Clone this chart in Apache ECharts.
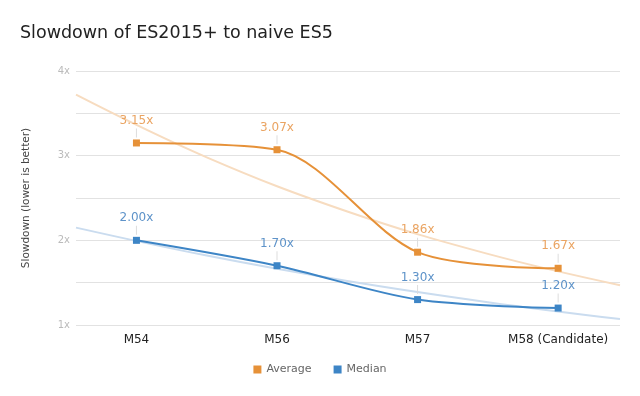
<!DOCTYPE html>
<html style="height: 100%">
<head>
<meta charset="utf-8">
<script type="text/javascript" src="https://cdn.jsdelivr.net/npm/echarts/dist/echarts.min.js"></script>
</head>
<body style="height: 100%; margin: 0">
<div id="container" style="width: 640px; height: 396px"></div>
<script type="text/javascript">
// data
var categories = ['M54', 'M56', 'M57', 'M58 (Candidate)'];
var average = [3.15, 3.07, 1.86, 1.67];
var median = [2.00, 1.70, 1.30, 1.20];
// trendlines (exponential looking), sampled at these x positions
var trendX = [-0.43, 0.5, 1.5, 2.5, 3.44];
var averageTrend = [3.72, 2.98, 2.34, 1.84, 1.47];
var medianTrend = [2.15, 1.82, 1.52, 1.27, 1.07];

var ORANGE = '#e69138';
var BLUE = '#3d85c6';

function pairs(xs, ys) {
    return ys.map(function (y, i) { return [xs[i], y]; });
}
var idx = categories.map(function (c, i) { return i; });

// value label with the small grey stem under it
function pointLabel(color) {
    return {
        show: true,
        position: 'top',
        distance: 2,
        formatter: function (p) { return '{v|' + p.value[1].toFixed(2) + 'x}\n{s| }'; },
        rich: {
            v: { color: color, fontSize: 12, lineHeight: 15, fontFamily: 'DejaVu Sans' },
            s: { width: 1, height: 9, backgroundColor: '#dddddd' }
        }
    };
}

var myChart = echarts.init(document.getElementById('container'));
var option = {
    animation: false,
    textStyle: { fontFamily: 'DejaVu Sans' },
    title: {
        text: 'Slowdown of ES2015+ to naive ES5',
        left: 15,
        top: 19,
        textStyle: { fontSize: 17.5, fontWeight: 'normal', color: '#222' }
    },
    legend: {
        data: ['Average', 'Median'],
        bottom: 16,
        icon: 'rect',
        itemWidth: 8,
        itemHeight: 8,
        itemGap: 22,
        textStyle: { color: '#666', fontSize: 11 }
    },
    grid: { left: 76, right: 20, top: 71, bottom: 71 },
    xAxis: {
        type: 'value',
        min: -0.43,
        max: 3.44,
        axisLine: { show: false },
        axisTick: { show: false },
        splitLine: { show: false },
        axisLabel: {
            customValues: idx,
            formatter: function (v) { return categories[Math.round(v)]; },
            color: '#222',
            fontSize: 12,
            margin: 9
        }
    },
    yAxis: {
        type: 'value',
        min: 1,
        max: 4,
        interval: 0.5,
        name: 'Slowdown (lower is better)',
        nameLocation: 'middle',
        nameGap: 44,
        nameTextStyle: { color: '#444', fontSize: 10.5 },
        axisLine: { show: false },
        axisTick: { show: false },
        axisLabel: {
            color: '#bbb',
            fontSize: 10,
            margin: 6,
            formatter: function (v) { return v % 1 === 0 ? v + 'x' : ''; }
        },
        splitLine: { lineStyle: { color: '#e2e2e2' } }
    },
    series: [
        {
            name: 'Average trend',
            type: 'line',
            data: pairs(trendX, averageTrend),
            smooth: 0.4,
            symbol: 'none',
            silent: true,
            lineStyle: { color: '#f7dcc0', width: 2 },
            z: 1
        },
        {
            name: 'Median trend',
            type: 'line',
            data: pairs(trendX, medianTrend),
            smooth: 0.4,
            symbol: 'none',
            silent: true,
            lineStyle: { color: '#cadcef', width: 2 },
            z: 1
        },
        {
            name: 'Average',
            type: 'line',
            data: pairs(idx, average),
            smooth: 0.3,
            symbol: 'rect',
            symbolSize: 7,
            itemStyle: { color: ORANGE },
            lineStyle: { color: ORANGE, width: 2 },
            label: pointLabel('#eaa462'),
            z: 3
        },
        {
            name: 'Median',
            type: 'line',
            data: pairs(idx, median),
            smooth: 0.3,
            symbol: 'rect',
            symbolSize: 7,
            itemStyle: { color: BLUE },
            lineStyle: { color: BLUE, width: 2 },
            label: pointLabel('#5e93c9'),
            z: 3
        }
    ]
};
myChart.setOption(option);
</script>
</body>
</html>
